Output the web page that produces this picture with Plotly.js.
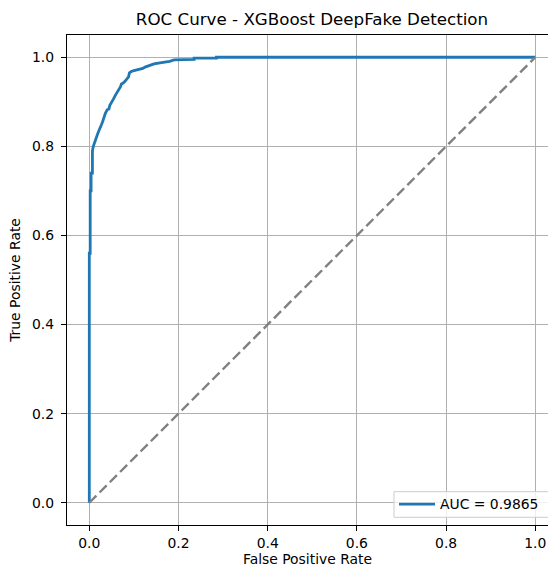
<!DOCTYPE html>
<html>
<head>
<meta charset="utf-8">
<script src="https://cdn.plot.ly/plotly-3.0.1.min.js"></script>
<style>html,body{margin:0;padding:0;background:#fff;}#chart{width:548px;height:567px;}</style>
</head>
<body>
<div id="chart"></div>
<script>
// ROC curve points
const fpr = [0, 0, 0.002, 0.002, 0.004, 0.004, 0.007, 0.007, 0.009, 0.012, 0.015, 0.018, 0.021, 0.024, 0.027, 0.030, 0.033, 0.036, 0.040, 0.044, 0.046, 0.050, 0.054, 0.058, 0.062, 0.066, 0.070, 0.072, 0.076, 0.080, 0.084, 0.088, 0.090, 0.094, 0.100, 0.110, 0.120, 0.125, 0.130, 0.136, 0.145, 0.155, 0.165, 0.180, 0.190, 0.235, 0.235, 0.285, 0.285, 1.0];
const tpr = [0, 0.56, 0.56, 0.70, 0.70, 0.74, 0.74, 0.79, 0.80, 0.81, 0.818, 0.826, 0.834, 0.840, 0.848, 0.856, 0.866, 0.874, 0.882, 0.884, 0.892, 0.898, 0.906, 0.914, 0.920, 0.928, 0.934, 0.940, 0.942, 0.946, 0.950, 0.956, 0.965, 0.968, 0.970, 0.972, 0.975, 0.978, 0.980, 0.983, 0.985, 0.987, 0.988, 0.991, 0.994, 0.995, 0.998, 0.998, 1.0, 1.0];
const diagX = [0, 1];
const diagY = [0, 1];
const aucLabel = "AUC = 0.9865";
const tickVals = [0, 0.2, 0.4, 0.6, 0.8, 1.0];
const tickText = ["0.0", "0.2", "0.4", "0.6", "0.8", "1.0"];
const titleText = "ROC Curve - XGBoost DeepFake Detection";
const xTitle = "False Positive Rate";
const yTitle = "True Positive Rate";

const font = "DejaVu Sans, sans-serif";

const traces = [
  {x: fpr, y: tpr, type: "scatter", mode: "lines", name: aucLabel,
   line: {color: "#1f77b4", width: 2.8, shape: "linear"}},
  {x: diagX, y: diagY, type: "scatter", mode: "lines", showlegend: false,
   line: {color: "#808080", width: 2.4, dash: "10px,4.5px"}}
];

const axisCommon = {
  showline: true, linecolor: "#000", linewidth: 1.1,
  ticks: "outside", ticklen: 5, tickwidth: 1.1, tickcolor: "#000",
  showgrid: true, gridcolor: "#b0b0b0", gridwidth: 1.1,
  zeroline: false, tickfont: {family: font, size: 13.9, color: "#000"},
  tickvals: tickVals, ticktext: tickText, automargin: false
};

// plot area in pixels: left 67, top 35, width 481, height 490
const px = v => (v - 67) / 481;
const py = v => (525 - v) / 490;

const layout = {
  width: 548, height: 567,
  margin: {l: 67, r: 0, t: 35, b: 42},
  paper_bgcolor: "#fff", plot_bgcolor: "#fff",
  font: {family: font, color: "#000"},
  title: {text: titleText, font: {family: font, size: 16.7, color: "#000"},
          x: 312/548, xref: "container", xanchor: "center",
          y: 1 - 19/567, yref: "container", yanchor: "middle"},
  xaxis: Object.assign({}, axisCommon, {
    range: [-0.05, -0.05 + 481/446], mirror: true,
    ticklabelstandoff: 0,
    title: {text: xTitle, font: {family: font, size: 13.9, color: "#000"}, standoff: 12}
  }),
  yaxis: Object.assign({}, axisCommon, {
    range: [-0.05, 1.05], mirror: false,
    ticklabelstandoff: 4,
    title: {text: yTitle, font: {family: font, size: 13.9, color: "#000"}, standoff: 8}
  }),
  shapes: [{type: "rect", xref: "paper", yref: "paper", layer: "above",
            x0: px(394), x1: px(566), y0: py(517.3), y1: py(491.7),
            fillcolor: "rgba(255,255,255,0.8)", line: {color: "#cccccc", width: 1}}],
  legend: {x: px(394), y: py(504.5), xref: "paper", yref: "paper",
           xanchor: "left", yanchor: "middle",
           bgcolor: "rgba(0,0,0,0)", borderwidth: 0,
           font: {family: font, size: 13.9, color: "#000"}, itemwidth: 36},
  showlegend: true
};

Plotly.newPlot("chart", traces, layout, {displayModeBar: false, staticPlot: true});
</script>
</body>
</html>
